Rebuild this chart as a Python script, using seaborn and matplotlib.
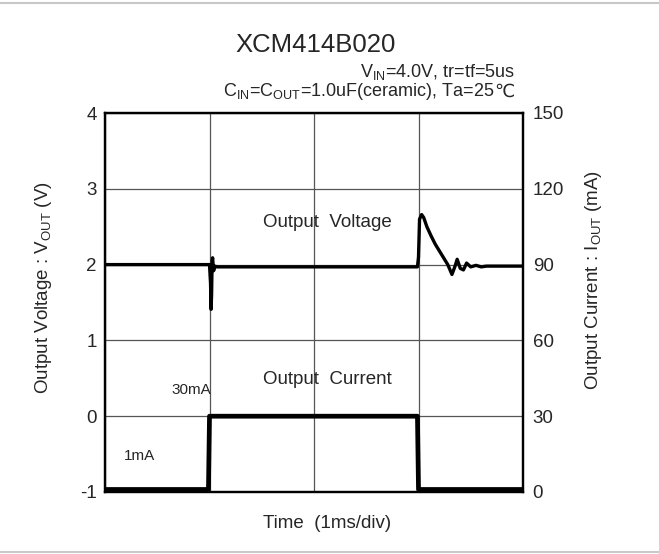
import matplotlib
matplotlib.use("Agg")
import matplotlib.pyplot as plt
import seaborn as sns
import pandas as pd
from matplotlib.lines import Line2D

sns.set_theme(style="white")
plt.rcParams['font.family'] = ['Liberation Sans', 'DejaVu Sans']
plt.rcParams['mathtext.fontset'] = 'custom'
plt.rcParams['mathtext.rm'] = 'Liberation Sans'
plt.rcParams['mathtext.it'] = 'Liberation Sans'

# Output voltage (V) vs time (ms)
v_time = [0.0, 1.00, 1.01, 1.015, 1.02, 1.025, 1.03, 1.035, 1.04, 1.05, 1.07, 1.1,
          2.99, 3.00, 3.01, 3.03, 3.05, 3.08, 3.12, 3.16, 3.20, 3.24, 3.28, 3.32,
          3.35, 3.37, 3.40, 3.43, 3.46, 3.50, 3.55, 3.60, 3.65, 4.0]
v_out = [2.0, 2.0, 1.75, 1.41, 1.60, 2.05, 2.09, 1.98, 1.92, 1.98, 1.97, 1.97,
         1.97, 2.10, 2.60, 2.66, 2.62, 2.50, 2.38, 2.27, 2.18, 2.09, 2.00, 1.87,
         1.98, 2.07, 1.95, 1.93, 2.02, 1.97, 1.99, 1.97, 1.98, 1.98]

# Output current (mA) vs time (ms)
i_time = [0.0, 0.99, 1.00, 2.99, 3.00, 4.0]
i_out = [1, 1, 30, 30, 1, 1]

x_ticks = [0, 1, 2, 3, 4]
v_ticks = [-1, 0, 1, 2, 3, 4]
i_ticks = [0, 30, 60, 90, 120, 150]

fig = plt.figure(figsize=(6.59, 5.54), dpi=100)
ax = fig.add_axes([105/659, 1-492/554, 418/659, 379/554])

dfv = pd.DataFrame({"t": v_time, "v": v_out})
dfi = pd.DataFrame({"t": i_time, "i": i_out})

ax.set_xlim(0, 4)
ax.set_ylim(-1, 4)
ax.set_xticks(x_ticks)
ax.set_xticklabels([])
ax.set_yticks(v_ticks)
ax.set_yticklabels([str(v) for v in v_ticks], fontsize=13.5)
ax.grid(True, color="#555555", linewidth=0.9)
ax.tick_params(length=0, pad=6)

ax2 = ax.twinx()
ax2.set_ylim(0, 150)
ax2.set_yticks(i_ticks)
ax2.set_yticklabels([str(v) for v in i_ticks], fontsize=13.5)
ax2.tick_params(length=0, pad=7)
ax2.grid(False)

sns.lineplot(data=dfv, x="t", y="v", ax=ax, color="black", linewidth=2.4, estimator=None, sort=False)
sns.lineplot(data=dfi, x="t", y="i", ax=ax2, color="black", linewidth=3.4, estimator=None, sort=False)

for a in (ax, ax2):
    for s in a.spines.values():
        s.set_color("black")
        s.set_linewidth(1.6)

ax.set_xlabel("Time  (1ms/div)", fontsize=13.5)
ax.xaxis.set_label_coords(0.531, -0.06)
ax.set_ylabel(r"Output Voltage : V$_{\mathrm{OUT}}$ (V)", fontsize=13.5)
ax.yaxis.set_label_coords(-0.122, 0.54)
ax2.set_ylabel(r"Output Current : I$_{\mathrm{OUT}}$ (mA)", fontsize=13.5, rotation=90)
ax2.yaxis.set_label_coords(1.144, 0.56)
ax2.set_xlabel("")

ax.text(2.13, 2.55, "Output  Voltage", fontsize=13.5, ha="center", va="center")
ax.text(2.13, 0.49, "Output  Current", fontsize=13.5, ha="center", va="center")
ax.text(0.83, 0.34, "30mA", fontsize=11, ha="center", va="center")
ax.text(0.33, -0.52, "1mA", fontsize=11, ha="center", va="center")

fig.text(316/659, 1-45/554, "XCM414B020", fontsize=18.5, ha="center", va="center")
fig.text(515/659, 1-72/554, r"V$_{\mathrm{IN}}$=4.0V, tr=tf=5us", fontsize=13, ha="right", va="center")

# second subtitle line: main part + degree sign in a family that has the glyph
deg = fig.text(515/659, 1-92/554, "℃", fontsize=13, ha="right", va="center",
               family=["DejaVu Sans"])
fig.canvas.draw()
bb = deg.get_window_extent(renderer=fig.canvas.get_renderer())
x_left = bb.x0 / fig.bbox.width
fig.text(x_left, 1-92/554, r"C$_{\mathrm{IN}}$=C$_{\mathrm{OUT}}$=1.0uF(ceramic), Ta=25",
         fontsize=13, ha="right", va="center")

fig.add_artist(Line2D([0, 1], [1-3/554, 1-3/554], color="#c8c8c8", linewidth=1.5, transform=fig.transFigure))
fig.add_artist(Line2D([0, 1], [1-552/554, 1-552/554], color="#c8c8c8", linewidth=1.5, transform=fig.transFigure))

fig.savefig("out.png", dpi=100)
